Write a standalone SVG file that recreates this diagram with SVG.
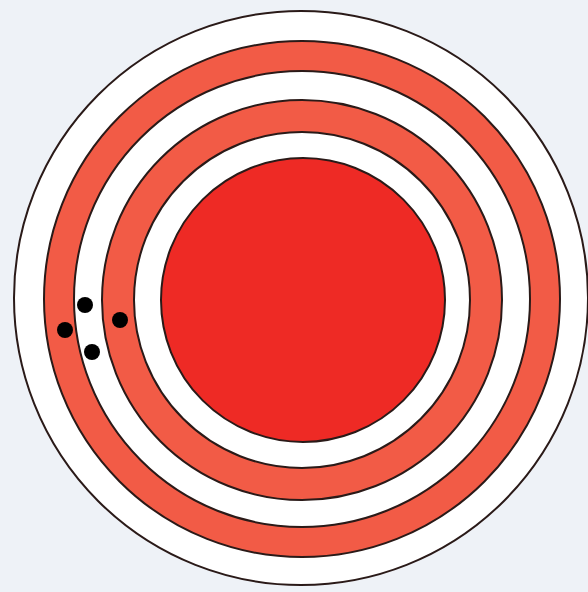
<svg xmlns="http://www.w3.org/2000/svg" width="588" height="592" viewBox="0 0 588 592">
<style>
.ring{stroke:#2a1a18;stroke-width:2}
.w{fill:#ffffff}
.o{fill:#f25b46}
.r{fill:#ee2a25}
.dot{fill:#000000}
</style>
<rect x="0" y="0" width="588" height="592" fill="#eef2f7"/>
<g id="ring1"><circle class="ring w" cx="301" cy="298" r="287"/></g>
<g id="ring2"><circle class="ring o" cx="302" cy="299" r="258"/></g>
<g id="ring3"><circle class="ring w" cx="302" cy="299" r="228"/></g>
<g id="ring4"><circle class="ring o" cx="302" cy="300" r="200"/></g>
<g id="ring5"><circle class="ring w" cx="302" cy="300" r="168"/></g>
<g id="core"><circle class="ring r" cx="303" cy="300" r="142"/></g>
<g id="dots">
<circle class="dot" cx="65" cy="330" r="8"/>
<circle class="dot" cx="85" cy="305" r="8"/>
<circle class="dot" cx="92" cy="352" r="8"/>
<circle class="dot" cx="120" cy="320" r="8"/>
</g>
</svg>
